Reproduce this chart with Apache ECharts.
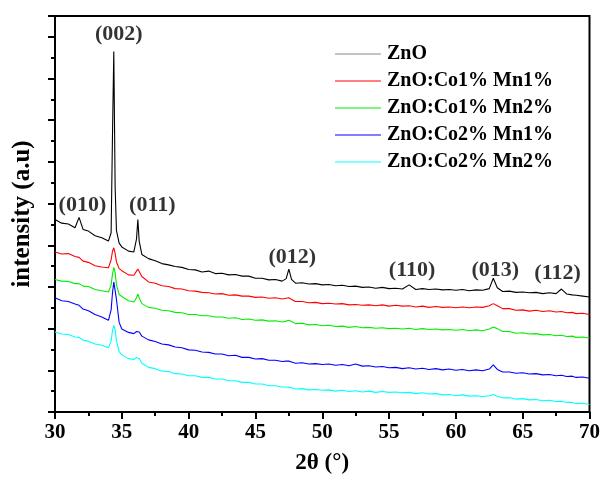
<!DOCTYPE html>
<html>
<head>
<meta charset="utf-8">
<script src="https://cdn.jsdelivr.net/npm/echarts@6/dist/echarts.min.js"></script>
<style>
html,body{margin:0;padding:0;background:#fff;}
#chart{width:603px;height:480px;}
</style>
</head>
<body>
<div id="chart"></div>
<script>
// 2θ sample positions (degrees)
const twoTheta = [
 30, 30.5, 31, 31.5, 31.8, 32.1, 32.5, 33, 33.5, 34,
 34.2, 34.3, 34.4, 34.5, 34.6, 34.8, 35, 35.5, 35.9, 36.1,
 36.2, 36.3, 36.5, 37, 37.5, 38, 38.5, 39, 39.5, 40,
 40.5, 41, 41.5, 42, 42.5, 43, 43.5, 44, 44.5, 45,
 45.5, 46, 46.5, 47, 47.3, 47.5, 47.7, 48, 48.5, 49,
 49.5, 50, 50.5, 51, 51.5, 52, 52.5, 53, 53.5, 54,
 54.5, 55, 55.5, 56, 56.5, 57, 57.5, 58, 58.5, 59,
 59.5, 60, 60.5, 61, 61.5, 62, 62.5, 62.8, 63.1, 63.5,
 64, 64.5, 65, 65.5, 66, 66.5, 67, 67.5, 67.9, 68.3,
 68.7, 69, 69.5, 70
];
const seriesNames = ['ZnO', 'ZnO:Co1% Mn1%', 'ZnO:Co1% Mn2%', 'ZnO:Co2% Mn1%', 'ZnO:Co2% Mn2%'];
const zno = [
 4.62, 4.53, 4.51, 4.42, 4.67, 4.38, 4.34, 4.23, 4.18, 4.10,
 4.30, 6.60, 8.65, 5.40, 4.35, 4.05, 3.96, 3.86, 3.84, 4.15,
 4.62, 4.10, 3.78, 3.68, 3.63, 3.56, 3.53, 3.49, 3.47, 3.42,
 3.41, 3.36, 3.38, 3.32, 3.33, 3.29, 3.30, 3.26, 3.26, 3.21,
 3.21, 3.17, 3.18, 3.14, 3.20, 3.43, 3.18, 3.09, 3.10, 3.07,
 3.08, 3.05, 3.06, 3.03, 3.04, 3.01, 3.02, 2.99, 3.00, 2.97,
 2.99, 2.96, 2.97, 2.95, 3.05, 2.94, 2.96, 2.94, 2.95, 2.93,
 2.94, 2.92, 2.94, 2.91, 2.93, 2.92, 2.96, 3.21, 2.98, 2.89,
 2.90, 2.87, 2.88, 2.86, 2.87, 2.84, 2.86, 2.84, 2.95, 2.83,
 2.81, 2.80, 2.78, 2.76
];
const co1mn1 = [
 3.84, 3.79, 3.80, 3.73, 3.71, 3.62, 3.59, 3.51, 3.48, 3.46,
 3.65, 3.85, 3.94, 3.80, 3.60, 3.44, 3.39, 3.29, 3.28, 3.38,
 3.43, 3.37, 3.25, 3.12, 3.09, 3.03, 3.01, 2.96, 2.95, 2.91,
 2.90, 2.87, 2.86, 2.83, 2.84, 2.80, 2.81, 2.78, 2.78, 2.75,
 2.76, 2.73, 2.74, 2.71, 2.73, 2.74, 2.70, 2.65, 2.65, 2.62,
 2.63, 2.60, 2.61, 2.59, 2.60, 2.57, 2.58, 2.56, 2.57, 2.55,
 2.57, 2.54, 2.56, 2.54, 2.55, 2.52, 2.54, 2.51, 2.53, 2.51,
 2.52, 2.50, 2.52, 2.50, 2.52, 2.51, 2.55, 2.60, 2.55, 2.48,
 2.48, 2.44, 2.45, 2.42, 2.44, 2.41, 2.43, 2.40, 2.41, 2.38,
 2.39, 2.36, 2.37, 2.34
];
const co1mn2 = [
 3.18, 3.14, 3.13, 3.08, 3.08, 3.02, 3.01, 2.94, 2.91, 2.88,
 3.05, 3.30, 3.47, 3.35, 3.05, 2.82, 2.77, 2.67, 2.64, 2.74,
 2.83, 2.74, 2.60, 2.51, 2.49, 2.44, 2.43, 2.39, 2.38, 2.34,
 2.34, 2.31, 2.31, 2.28, 2.28, 2.25, 2.26, 2.22, 2.23, 2.20,
 2.21, 2.18, 2.19, 2.16, 2.18, 2.20, 2.17, 2.12, 2.13, 2.09,
 2.10, 2.07, 2.08, 2.05, 2.06, 2.03, 2.05, 2.02, 2.03, 2.01,
 2.02, 2.00, 2.01, 1.99, 2.01, 1.98, 2.00, 1.98, 1.99, 1.97,
 1.98, 1.96, 1.98, 1.95, 1.97, 1.95, 1.99, 2.04, 2.00, 1.93,
 1.93, 1.89, 1.90, 1.87, 1.88, 1.85, 1.86, 1.83, 1.84, 1.81,
 1.82, 1.79, 1.80, 1.77
];
const co2mn1 = [
 2.74, 2.67, 2.65, 2.59, 2.56, 2.47, 2.43, 2.34, 2.28, 2.20,
 2.45, 2.85, 3.12, 3.15, 2.70, 2.15, 1.99, 1.91, 1.88, 1.93,
 1.96, 1.92, 1.82, 1.73, 1.69, 1.63, 1.61, 1.56, 1.54, 1.49,
 1.48, 1.44, 1.43, 1.39, 1.39, 1.35, 1.36, 1.31, 1.31, 1.27,
 1.28, 1.24, 1.24, 1.21, 1.22, 1.22, 1.20, 1.17, 1.18, 1.15,
 1.16, 1.14, 1.15, 1.12, 1.14, 1.11, 1.15, 1.10, 1.11, 1.08,
 1.09, 1.06, 1.07, 1.04, 1.06, 1.03, 1.05, 1.02, 1.04, 1.01,
 1.03, 1.00, 1.02, 0.99, 1.01, 0.99, 1.03, 1.13, 1.02, 0.96,
 0.96, 0.93, 0.94, 0.91, 0.92, 0.89, 0.90, 0.87, 0.88, 0.85,
 0.86, 0.83, 0.84, 0.81
];
const co2mn2 = [
 1.92, 1.87, 1.86, 1.80, 1.79, 1.72, 1.70, 1.63, 1.60, 1.54,
 1.70, 1.95, 2.08, 1.98, 1.70, 1.45, 1.37, 1.28, 1.26, 1.31,
 1.33, 1.28, 1.17, 1.07, 1.04, 0.98, 0.97, 0.92, 0.91, 0.87,
 0.87, 0.83, 0.83, 0.79, 0.79, 0.75, 0.75, 0.71, 0.71, 0.67,
 0.67, 0.63, 0.63, 0.60, 0.60, 0.59, 0.58, 0.55, 0.56, 0.53,
 0.54, 0.52, 0.53, 0.50, 0.52, 0.49, 0.51, 0.48, 0.50, 0.47,
 0.49, 0.47, 0.48, 0.46, 0.47, 0.44, 0.46, 0.43, 0.44, 0.41,
 0.42, 0.39, 0.41, 0.38, 0.39, 0.37, 0.39, 0.42, 0.38, 0.34,
 0.34, 0.31, 0.32, 0.29, 0.30, 0.27, 0.28, 0.25, 0.26, 0.23,
 0.23, 0.20, 0.21, 0.18
];
// peak (hkl) annotation labels and their anchor in data units
const peakNames = ['(010)', '(002)', '(011)', '(012)', '(110)', '(013)', '(112)'];
const peakX = [32.05, 34.78, 37.28, 47.76, 56.72, 62.95, 67.61];
const peakY = [4.96, 9.06, 4.96, 3.71, 3.40, 3.40, 3.33];

const colors = ['#000000', '#ff0000', '#00ee00', '#0000ff', '#00ffff'];
const values = [zno, co1mn1, co1mn2, co2mn1, co2mn2];
const FONT = "'Liberation Serif', 'Times New Roman', serif";

const lineSeries = seriesNames.map((name, i) => ({
  name: name,
  type: 'line',
  data: twoTheta.map((x, j) => [x, values[i][j]]),
  symbol: 'none',
  showSymbol: false,
  lineStyle: { color: colors[i], width: 1.1 },
  itemStyle: { color: colors[i] },
  z: 10 - i,
  animation: false
}));

const chart = echarts.init(document.getElementById('chart'), null, { renderer: 'canvas' });
chart.setOption({
  animation: false,
  backgroundColor: '#ffffff',
  grid: { left: 55, right: 12, top: 16, bottom: 64, show: true, borderColor: '#000', borderWidth: 2, backgroundColor: 'transparent' },
  legend: {
    data: seriesNames.map((n, i) => ({ name: n, icon: 'rect', itemStyle: { color: i === 0 ? '#888888' : colors[i] } })),
    orient: 'vertical',
    left: 335,
    top: 44,
    padding: 0,
    itemWidth: 46,
    itemHeight: 1.2,
    itemGap: 7,
    textStyle: { fontFamily: FONT, fontWeight: 'bold', fontSize: 20, color: '#000', padding: [0, 0, 0, 1] }
  },
  xAxis: {
    type: 'value', min: 30, max: 70, interval: 5,
    name: '2θ (°)', nameLocation: 'middle', nameGap: 40,
    nameTextStyle: { fontFamily: FONT, fontWeight: 'bold', fontSize: 23, color: '#000' },
    axisLine: { lineStyle: { color: '#000', width: 2 } },
    axisTick: { show: true, inside: false, length: 7, lineStyle: { color: '#000', width: 2 } },
    minorTick: { show: true, splitNumber: 2, length: 4, lineStyle: { color: '#000', width: 2 } },
    axisLabel: { fontFamily: FONT, fontWeight: 'bold', fontSize: 21, color: '#000', margin: 10 },
    splitLine: { show: false }
  },
  yAxis: {
    type: 'value', min: 0, max: 9.5, interval: 1,
    name: 'intensity (a.u)', nameLocation: 'middle', nameGap: 20,
    nameTextStyle: { fontFamily: FONT, fontWeight: 'bold', fontSize: 25, color: '#000' },
    axisLine: { lineStyle: { color: '#000', width: 2 } },
    axisTick: { show: true, inside: false, length: 7, lineStyle: { color: '#000', width: 2 } },
    minorTick: { show: true, splitNumber: 2, length: 4, lineStyle: { color: '#000', width: 2 } },
    axisLabel: { show: false },
    splitLine: { show: false }
  },
  series: lineSeries.concat([{
    name: 'peaks',
    type: 'scatter',
    symbolSize: 1,
    itemStyle: { color: 'rgba(0,0,0,0)' },
    silent: true,
    z: 20,
    data: peakNames.map((n, k) => ({ name: n, value: [peakX[k], peakY[k]] })),
    label: {
      show: true, position: 'inside', formatter: '{b}',
      fontFamily: FONT, fontWeight: 'bold', fontSize: 22, color: '#000'
    }
  }])
});
</script>
</body>
</html>
